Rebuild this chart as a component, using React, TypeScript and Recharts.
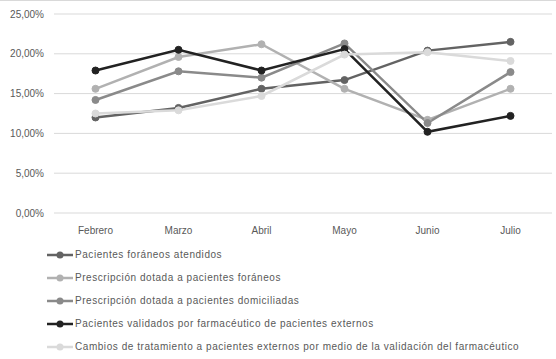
import React from 'react';
import { LineChart, Line, XAxis, YAxis, CartesianGrid, Legend } from 'recharts';

const meses = ['Febrero', 'Marzo', 'Abril', 'Mayo', 'Junio', 'Julio'];

const foraneosAtendidos = [0.12, 0.132, 0.156, 0.167, 0.204, 0.215];
const prescripcionForaneos = [0.156, 0.196, 0.212, 0.156, 0.117, 0.156];
const prescripcionDomiciliadas = [0.142, 0.178, 0.17, 0.213, 0.113, 0.177];
const validadosFarmaceutico = [0.179, 0.205, 0.179, 0.206, 0.102, 0.122];
const cambiosTratamiento = [0.125, 0.129, 0.147, 0.199, 0.202, 0.191];

const yTicks = [0, 0.05, 0.1, 0.15, 0.2, 0.25];

const series = [
  { key: 'a', name: 'Pacientes foráneos atendidos', color: '#636363', values: foraneosAtendidos },
  { key: 'b', name: 'Prescripción dotada a pacientes foráneos', color: '#b1b1b1', values: prescripcionForaneos },
  { key: 'c', name: 'Prescripción dotada a pacientes domiciliadas', color: '#8a8a8a', values: prescripcionDomiciliadas },
  { key: 'd', name: 'Pacientes validados por farmacéutico de pacientes externos', color: '#222222', values: validadosFarmaceutico },
  { key: 'e', name: 'Cambios de tratamiento a pacientes externos por medio de la validación del farmacéutico', color: '#dadada', values: cambiosTratamiento },
];

const data = meses.map((mes, i) => {
  const row: Record<string, any> = { mes };
  series.forEach((s) => { row[s.key] = s.values[i]; });
  return row;
});

const fmt = (v: number) => `${(v * 100).toFixed(2).replace('.', ',')}%`;

const LegendBox = () => (
  <div style={{ height: 112, paddingLeft: 47 }}>
    {series.map((s) => (
      <div key={s.key} style={{ height: 23, display: 'flex', alignItems: 'center' }}>
        <svg width={27} height={10} style={{ marginRight: 1 }}>
          <line x1={0} y1={5} x2={26} y2={5} stroke={s.color} strokeWidth={2.5} />
          <circle cx={13} cy={5} r={3.5} fill={s.color} />
        </svg>
        <span style={{ fontSize: 10, color: '#595959', whiteSpace: 'nowrap', letterSpacing: 0.55 }}>{s.name}</span>
      </div>
    ))}
  </div>
);

export default function App() {
  return (
    <div style={{ position: 'absolute', left: 0, top: 0, width: 556, height: 359, background: '#fff', borderTop: '1px solid #d9d9d9', boxSizing: 'border-box', fontFamily: 'Liberation Sans, Arial, sans-serif' }}>
      <LineChart width={556} height={358} data={data} margin={{ top: 13, right: 4, left: 0, bottom: 4 }}>
        <CartesianGrid vertical={false} stroke="#d9d9d9" />
        <XAxis dataKey="mes" axisLine={false} tickLine={false} tick={{ fill: '#595959', fontSize: 10 }} height={30} tickMargin={8} padding={{ left: 41.5, right: 41.5 }} />
        <YAxis domain={[0, 0.25]} ticks={yTicks} tickFormatter={fmt} axisLine={false} tickLine={false} width={54} tick={{ fill: '#595959', fontSize: 10 }} tickMargin={4} />
        <Legend verticalAlign="bottom" align="left" content={() => <LegendBox />} />
        {series.map((s) => (
          <Line
            key={s.key}
            dataKey={s.key}
            name={s.name}
            stroke={s.color}
            strokeWidth={2.5}
            dot={{ r: 3.5, fill: s.color, stroke: s.color, strokeWidth: 1 }}
            isAnimationActive={false}
          />
        ))}
      </LineChart>
    </div>
  );
}
